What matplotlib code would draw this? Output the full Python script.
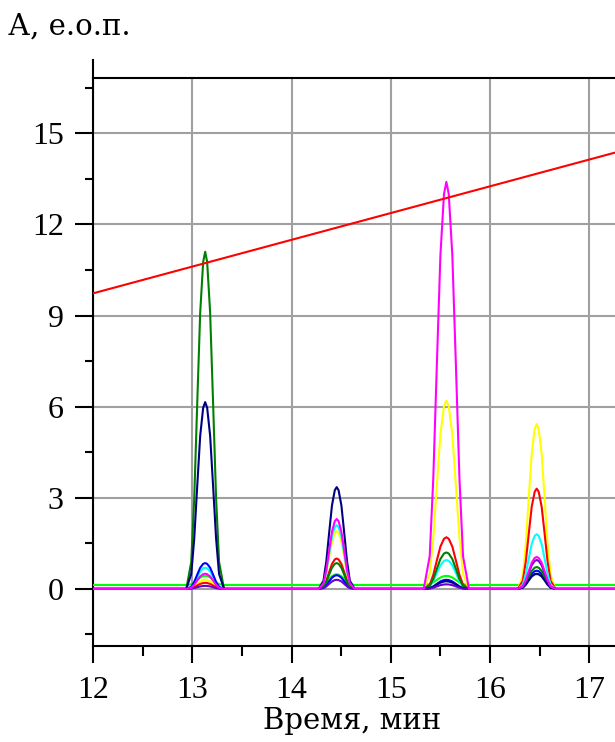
import numpy as np
import matplotlib
matplotlib.use('Agg')
import matplotlib.pyplot as plt

#retention times of the four peaks (min) and relative peak width
peak_times = [13.13, 14.455, 15.56, 16.47]
peak_widths = [1.0, 0.95, 1.2, 1.0]

#common peak profile: time offset (min) and fraction of peak height
shape_offsets = [-0.19, -0.14, -0.11, -0.08, -0.05, -0.02, 0.0, 0.02, 0.05, 0.08, 0.11, 0.14, 0.19]
shape_levels = [0.0, 0.08, 0.27, 0.55, 0.82, 0.97, 1.0, 0.97, 0.82, 0.55, 0.27, 0.08, 0.0]

#peak heights of every chromatogram, one value per peak
heights_lime = [0.3, 0.35, 0.3, 0.35]
heights_yellow = [0.3, 1.9, 6.2, 5.43]
heights_red = [0.2, 1.0, 1.7, 3.3]
heights_cyan = [0.7, 2.1, 0.95, 1.8]
heights_blue = [0.85, 0.45, 0.3, 0.6]
heights_green = [11.1, 0.85, 1.2, 0.72]
heights_navy = [6.15, 3.35, 0.25, 0.5]
heights_purple = [0.1, 0.3, 0.15, 0.95]
heights_magenta = [0.5, 2.3, 13.4, 1.05]

baseline_lime = 0.13

#gradient line
gradient_t = [12.0, 17.3]
gradient_a = [9.73, 14.40]

traces = [
    (heights_lime, '#00ff00', baseline_lime),
    (heights_yellow, '#ffff00', 0.0),
    (heights_red, '#ff0000', 0.0),
    (heights_cyan, '#00ffff', 0.0),
    (heights_blue, '#0000ff', 0.0),
    (heights_green, '#008000', 0.0),
    (heights_navy, '#000080', 0.0),
    (heights_purple, '#6a00d0', 0.0),
    (heights_magenta, '#ff00ff', 0.0),
]

plt.rcParams['font.family'] = 'Liberation Serif'

fig = plt.figure(figsize=(6.15, 7.42), dpi=100)
ax = fig.add_axes([93/615, 96.3/742, 5.5*99.26/615, 568/742])
ax.set_xlim(12, 17.5)
ax.set_ylim(-1.87, 16.83)

#build each chromatogram from baseline + peaks
for heights, color, base in traces:
    t = [12.0]
    a = [base]
    for pt, pw, h in zip(peak_times, peak_widths, heights):
        for off, lev in zip(shape_offsets, shape_levels):
            t.append(pt + off*pw)
            a.append(base + h*lev)
    t.append(17.6)
    a.append(base)
    ax.plot(t, a, color=color, lw=1.5, zorder=3)

ax.plot(gradient_t, gradient_a, color='#ff0000', lw=1.5, zorder=4)

#axes and grid
ax.set_xticks(np.arange(12, 18, 1))
ax.set_xticks(np.arange(12.5, 17.5, 1), minor=True)
ax.set_yticks(np.arange(0, 16, 3))
ax.set_yticks(np.arange(-1.5, 17, 3), minor=True)
ax.grid(True, which='major', color='#a0a0a0', lw=1.5, zorder=1)
ax.set_axisbelow(True)

for s in ['left', 'bottom', 'top']:
    ax.spines[s].set_linewidth(1.5)
ax.spines['right'].set_visible(False)
ax.plot([0, 0], [1, 1.032], transform=ax.transAxes, color='black', lw=1.5, clip_on=False)

ax.tick_params(axis='x', which='major', direction='out', length=12, width=1.5, pad=10, labelsize=23)
ax.tick_params(axis='x', which='minor', direction='out', length=7, width=1.5)
ax.tick_params(axis='y', which='major', direction='out', length=13, width=1.5, pad=8, labelsize=23)
ax.tick_params(axis='y', which='minor', direction='out', length=6, width=1.5)
ax.tick_params(top=False, right=False)

fig.text(8/615, 1-35/742, 'А, е.о.п.', fontsize=21, family='DejaVu Serif', ha='left', va='baseline')
fig.text(352/615, 1-729/742, 'Время, мин', fontsize=21, family='DejaVu Serif', ha='center', va='baseline')

plt.savefig('out.png', dpi=100)
